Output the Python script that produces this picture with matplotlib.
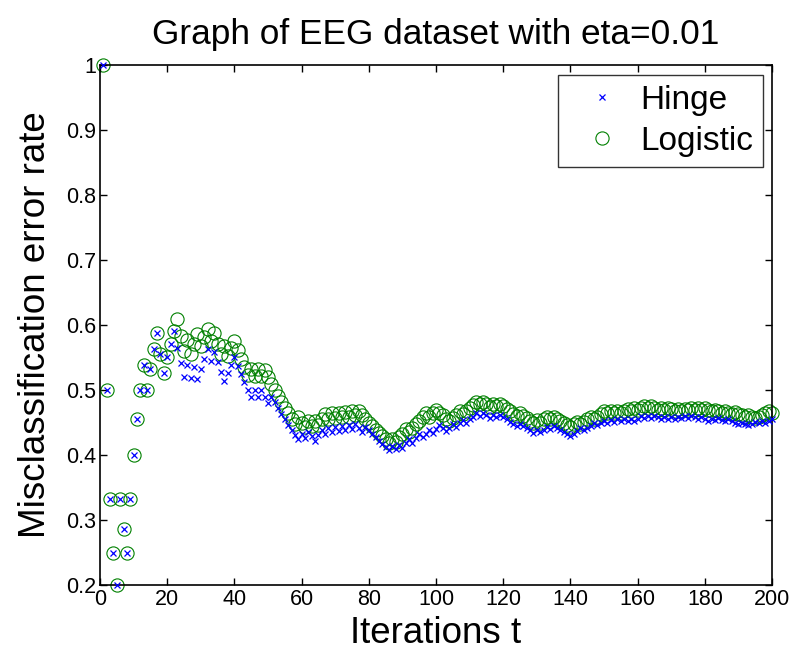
import matplotlib
matplotlib.use("Agg")
import matplotlib.pyplot as plt

# iteration index t = 1..200
iterations = list(range(1, 201))

hinge_err = [
    1.0, 0.5, 0.333, 0.25, 0.2, 0.333, 0.286, 0.25, 0.333, 0.4,
    0.455, 0.5, 0.538, 0.5, 0.533, 0.563, 0.588, 0.556, 0.526, 0.55,
    0.571, 0.591, 0.565, 0.542, 0.52, 0.538, 0.519, 0.536, 0.517, 0.533,
    0.548, 0.563, 0.545, 0.559, 0.543, 0.528, 0.514, 0.526, 0.538, 0.55,
    0.537, 0.524, 0.512, 0.5, 0.489, 0.5, 0.489, 0.5, 0.49, 0.48,
    0.49, 0.481, 0.472, 0.463, 0.455, 0.446, 0.439, 0.431, 0.424, 0.433,
    0.426, 0.435, 0.429, 0.422, 0.431, 0.439, 0.433, 0.441, 0.435, 0.443,
    0.437, 0.444, 0.438, 0.446, 0.44, 0.447, 0.442, 0.436, 0.443, 0.438,
    0.432, 0.427, 0.422, 0.417, 0.412, 0.407, 0.414, 0.409, 0.416, 0.411,
    0.418, 0.424, 0.419, 0.426, 0.432, 0.427, 0.433, 0.439, 0.434, 0.44,
    0.446, 0.441, 0.437, 0.442, 0.448, 0.443, 0.449, 0.454, 0.45, 0.455,
    0.459, 0.464, 0.46, 0.465, 0.461, 0.457, 0.462, 0.458, 0.462, 0.458,
    0.455, 0.451, 0.447, 0.444, 0.448, 0.444, 0.441, 0.438, 0.434, 0.438,
    0.435, 0.439, 0.443, 0.44, 0.444, 0.441, 0.438, 0.435, 0.432, 0.429,
    0.433, 0.437, 0.441, 0.438, 0.441, 0.445, 0.449, 0.446, 0.45, 0.453,
    0.45, 0.454, 0.451, 0.455, 0.452, 0.455, 0.452, 0.456, 0.453, 0.456,
    0.46, 0.457, 0.46, 0.457, 0.46, 0.458, 0.455, 0.458, 0.456, 0.459,
    0.456, 0.459, 0.457, 0.46, 0.457, 0.46, 0.458, 0.455, 0.458, 0.456,
    0.453, 0.456, 0.454, 0.457, 0.454, 0.452, 0.455, 0.452, 0.45, 0.447,
    0.45, 0.448, 0.446, 0.448, 0.451, 0.449, 0.452, 0.449, 0.452, 0.455,
]

logistic_err = [
    1.0, 0.5, 0.333, 0.25, 0.2, 0.333, 0.286, 0.25, 0.333, 0.4,
    0.455, 0.5, 0.538, 0.5, 0.533, 0.563, 0.588, 0.556, 0.526, 0.55,
    0.571, 0.591, 0.609, 0.583, 0.56, 0.577, 0.556, 0.571, 0.586, 0.567,
    0.581, 0.594, 0.576, 0.588, 0.571, 0.556, 0.568, 0.553, 0.564, 0.575,
    0.561, 0.548, 0.535, 0.523, 0.533, 0.522, 0.532, 0.521, 0.531, 0.52,
    0.51, 0.5, 0.491, 0.481, 0.473, 0.464, 0.456, 0.448, 0.458, 0.45,
    0.443, 0.452, 0.444, 0.453, 0.446, 0.455, 0.463, 0.456, 0.464, 0.457,
    0.465, 0.458, 0.466, 0.459, 0.467, 0.461, 0.468, 0.462, 0.456, 0.45,
    0.444, 0.439, 0.434, 0.429, 0.424, 0.419, 0.425, 0.42, 0.427, 0.433,
    0.44, 0.435, 0.441, 0.447, 0.453, 0.458, 0.464, 0.459, 0.465, 0.47,
    0.465, 0.461, 0.456, 0.452, 0.457, 0.462, 0.467, 0.463, 0.468, 0.473,
    0.477, 0.482, 0.478, 0.482, 0.478, 0.474, 0.479, 0.475, 0.479, 0.475,
    0.471, 0.467, 0.463, 0.46, 0.464, 0.46, 0.457, 0.453, 0.45, 0.454,
    0.45, 0.455, 0.459, 0.455, 0.459, 0.456, 0.453, 0.449, 0.446, 0.443,
    0.447, 0.451, 0.448, 0.451, 0.455, 0.459, 0.456, 0.459, 0.463, 0.467,
    0.464, 0.467, 0.464, 0.468, 0.465, 0.468, 0.471, 0.468, 0.472, 0.469,
    0.472, 0.475, 0.472, 0.475, 0.473, 0.47, 0.473, 0.47, 0.473, 0.471,
    0.468, 0.471, 0.468, 0.471, 0.469, 0.472, 0.469, 0.472, 0.469, 0.472,
    0.47, 0.467, 0.47, 0.467, 0.465, 0.468, 0.465, 0.463, 0.466, 0.463,
    0.461, 0.458, 0.461, 0.459, 0.457, 0.459, 0.462, 0.464, 0.467, 0.465,
]

x_ticks = [0, 20, 40, 60, 80, 100, 120, 140, 160, 180, 200]
y_ticks = [0.2, 0.3, 0.4, 0.5, 0.6, 0.7, 0.8, 0.9, 1.0]
y_tick_labels = ["0.2", "0.3", "0.4", "0.5", "0.6", "0.7", "0.8", "0.9", "1"]

plt.rcParams["font.family"] = ["Liberation Sans", "DejaVu Sans"]
tick_font = ["Liberation Sans Narrow", "Liberation Sans", "DejaVu Sans"]

fig = plt.figure(figsize=(7.91, 6.5), dpi=100)
ax = fig.add_axes([0.1264, 0.1, 0.8496, 0.8])

ax.plot(iterations, logistic_err, linestyle="none", marker="o", markersize=9.5,
        markerfacecolor="none", markeredgecolor="#008000", markeredgewidth=0.8,
        label="Logistic", clip_on=False, zorder=2)
ax.plot(iterations, hinge_err, linestyle="none", marker="x", markersize=4,
        color="#0000ff", markeredgewidth=0.9, label="Hinge", clip_on=False,
        zorder=3)

ax.set_xlim(0, 200)
ax.set_ylim(0.2, 1.0)
ax.set_xticks(x_ticks)
ax.set_xticklabels([str(v) for v in x_ticks], family=tick_font, fontsize=15.5)
ax.set_yticks(y_ticks)
ax.set_yticklabels(y_tick_labels, family=tick_font, fontsize=15.5)
ax.tick_params(direction="in", length=5, width=1, top=True, right=True, pad=3)
for sp in ax.spines.values():
    sp.set_linewidth(1.2)

ax.set_title("Graph of EEG dataset with eta=0.01", fontsize=25.4, pad=15)
ax.set_xlabel("Iterations t", fontsize=26.5, labelpad=4)
ax.set_ylabel("Misclassification error rate", fontsize=26.5, labelpad=9)

handles, labels = ax.get_legend_handles_labels()
leg = ax.legend(handles[::-1], labels[::-1], loc="upper right",
                bbox_to_anchor=(0.9866, 0.9808), borderaxespad=0,
                fontsize=24, frameon=True, fancybox=False, handlelength=2.05,
                handletextpad=0.12, borderpad=0.3, labelspacing=0.3)
leg.get_frame().set_edgecolor("black")
leg.get_frame().set_linewidth(1.0)

fig.savefig("out.png", dpi=100)
